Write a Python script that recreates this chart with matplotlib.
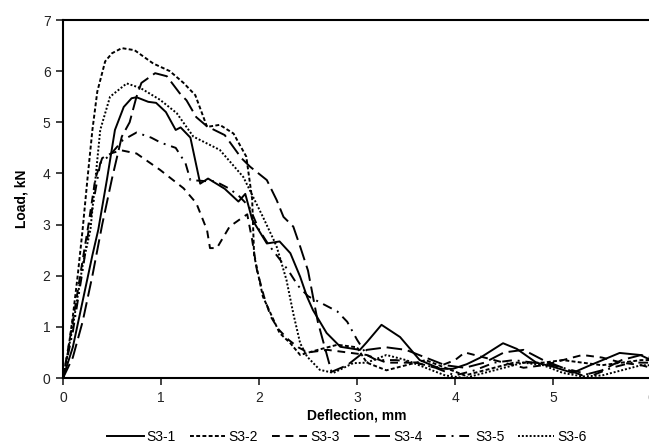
import matplotlib
matplotlib.use("Agg")
import matplotlib.pyplot as plt

plt.rcParams['font.family'] = ['Liberation Sans', 'DejaVu Sans']

# deflection (mm) / load (kN)
x1 = [0, 0.1, 0.2, 0.3, 0.36, 0.45, 0.53, 0.62, 0.7, 0.75, 0.87, 0.95, 1.05, 1.15, 1.2, 1.3, 1.4, 1.48,
      1.65, 1.79, 1.86, 1.93, 2.08, 2.21, 2.32, 2.42, 2.49, 2.55, 2.69, 2.83, 3.03, 3.1, 3.25, 3.44, 3.64,
      3.85, 3.98, 4.12, 4.26, 4.49, 4.63, 4.83, 5.0, 5.2, 5.38, 5.68, 5.89, 6.0]
y1 = [0, 0.6, 1.5, 2.4, 2.9, 3.9, 4.85, 5.3, 5.47, 5.49, 5.4, 5.38, 5.2, 4.85, 4.9, 4.7, 3.8, 3.9,
      3.7, 3.45, 3.6, 3.1, 2.63, 2.67, 2.44, 1.98, 1.59, 1.33, 0.88, 0.61, 0.55, 0.7, 1.04, 0.8, 0.35,
      0.18, 0.18, 0.27, 0.4, 0.68, 0.57, 0.3, 0.22, 0.1, 0.25, 0.49, 0.45, 0.35]

x2 = [0, 0.05, 0.1, 0.15, 0.2, 0.25, 0.3, 0.35, 0.43, 0.5, 0.6, 0.73, 0.92, 1.09, 1.23, 1.35, 1.47,
      1.6, 1.74, 1.87, 1.93, 1.95, 2.04, 2.15, 2.21, 2.32, 2.42, 2.6, 2.8, 3.0, 3.1, 3.3, 3.5, 3.7, 3.9,
      4.1, 4.3, 4.6, 4.9, 5.1, 5.3, 5.5, 5.7, 5.9, 6.0]
y2 = [0, 0.5, 1.2, 2.0, 2.9, 3.9, 4.85, 5.6, 6.19, 6.35, 6.45, 6.41, 6.15, 6.0, 5.77, 5.53, 4.91,
      4.95, 4.78, 4.33, 3.5, 2.4, 1.59, 1.13, 0.88, 0.68, 0.45, 0.55, 0.65, 0.6, 0.3, 0.15, 0.25, 0.35, 0.2,
      0.05, 0.15, 0.3, 0.3, 0.35, 0.3, 0.25, 0.3, 0.35, 0.35]

x3 = [0, 0.1, 0.2, 0.26, 0.33, 0.4, 0.5, 0.6, 0.75, 0.99, 1.23, 1.36, 1.47, 1.5, 1.57, 1.7, 1.84, 1.88,
      1.93, 1.98, 2.05, 2.12, 2.2, 2.3, 2.4, 2.5, 2.7, 2.9, 3.1, 3.3, 3.6, 3.8, 4.0, 4.1, 4.3, 4.5, 4.7,
      4.9, 5.1, 5.3, 5.5, 5.7, 5.9, 6.0]
y3 = [0, 1.1, 2.3, 3.0, 3.9, 4.3, 4.4, 4.45, 4.39, 4.07, 3.71, 3.42, 2.89, 2.54, 2.54, 2.96, 3.15, 3.2,
      2.7, 2.1, 1.6, 1.2, 0.95, 0.75, 0.6, 0.5, 0.55, 0.5, 0.45, 0.3, 0.3, 0.2, 0.35, 0.5, 0.4, 0.3, 0.2,
      0.25, 0.35, 0.45, 0.4, 0.3, 0.25, 0.2]

x4 = [0, 0.1, 0.2, 0.3, 0.4, 0.5, 0.6, 0.68, 0.75, 0.8, 0.94, 1.06, 1.19, 1.26, 1.36, 1.47, 1.65, 1.82,
      1.91, 2.08, 2.18, 2.25, 2.35, 2.42, 2.5, 2.6, 2.74, 2.9, 3.1, 3.3, 3.5, 3.7, 3.9, 4.1, 4.3, 4.5, 4.7,
      4.9, 5.1, 5.3, 5.5, 5.7, 5.9, 6.0]
y4 = [0, 0.4, 1.1, 2.0, 3.0, 3.9, 4.72, 5.0, 5.5, 5.77, 5.96, 5.9, 5.57, 5.43, 5.1, 4.92, 4.75, 4.3,
      4.13, 3.87, 3.48, 3.15, 2.96, 2.57, 2.1, 1.1, 0.12, 0.25, 0.55, 0.6, 0.55, 0.4, 0.25, 0.2, 0.3, 0.5, 0.55,
      0.35, 0.2, 0.05, 0.15, 0.35, 0.45, 0.4]

x5 = [0, 0.1, 0.2, 0.27, 0.38, 0.48, 0.61, 0.75, 0.9, 1.0, 1.15, 1.25, 1.3, 1.45, 1.55, 1.7, 1.8, 1.9,
      2.0, 2.1, 2.2, 2.3, 2.4, 2.5, 2.65, 2.8, 2.9, 3.0, 3.1, 3.2, 3.4, 3.6, 3.8, 4.0, 4.2, 4.4, 4.6, 4.8,
      5.0, 5.2, 5.4, 5.6, 5.8, 6.0]
y5 = [0, 0.9, 2.1, 3.0, 4.2, 4.36, 4.65, 4.8, 4.7, 4.6, 4.5, 4.2, 3.87, 3.85, 3.85, 3.7, 3.55, 3.35,
      2.9, 2.6, 2.35, 2.1, 1.8, 1.6, 1.45, 1.3, 1.1, 0.75, 0.45, 0.35, 0.35, 0.3, 0.2, 0.05, 0.15, 0.3, 0.35, 0.3,
      0.25, 0.15, 0.05, 0.2, 0.3, 0.3]

x6 = [0, 0.1, 0.2, 0.28, 0.38, 0.48, 0.65, 0.79, 0.99, 1.16, 1.33, 1.6, 1.84, 2.04, 2.15, 2.18, 2.28,
      2.35, 2.42, 2.49, 2.62, 2.76, 2.96, 3.1, 3.3, 3.5, 3.7, 3.9, 4.1, 4.3, 4.5, 4.7, 4.9, 5.1, 5.3, 5.5,
      5.7, 5.9, 6.0]
y6 = [0, 1.0, 2.2, 2.9, 4.85, 5.5, 5.76, 5.67, 5.44, 5.18, 4.72, 4.46, 3.93, 3.15, 2.7, 2.57, 1.92,
      1.26, 0.68, 0.42, 0.16, 0.1, 0.29, 0.3, 0.45, 0.35, 0.2, 0.05, 0.0, 0.1, 0.2, 0.3, 0.25, 0.1, 0.03, 0.05,
      0.15, 0.25, 0.25]

labels = ["S3-1", "S3-2", "S3-3", "S3-4", "S3-5", "S3-6"]
styles = ["-", (0, (2, 1.2)), (0, (4, 3)), (0, (8, 3)), (0, (5, 3, 1, 3)), (0, (1, 1))]

fig = plt.figure(figsize=(6.49, 4.45), dpi=100)
ax = fig.add_axes([63 / 649, 67 / 445, 588 / 649, 358 / 445])

series = [(x1, y1), (x2, y2), (x3, y3), (x4, y4), (x5, y5), (x6, y6)]
for (xs, ys), lab, ls in zip(series, labels, styles):
    ax.plot(xs, ys, color="black", lw=1.4, ls=ls, label=lab)

ax.set_xlim(0, 6)
ax.set_ylim(0, 7)
ax.set_xticks(range(0, 7))
ax.set_yticks(range(0, 8))
ax.spines["right"].set_visible(False)
for s in ["left", "bottom", "top"]:
    ax.spines[s].set_linewidth(1.5)
ax.tick_params(labelsize=10, width=1.2, length=5, direction="out", pad=4, colors="#222222")
ax.tick_params(axis="x", top=False)

ax.set_xlabel("Deflection, mm", fontsize=10, fontweight="bold", labelpad=3)
ax.set_ylabel("Load, kN", fontsize=10, fontweight="bold", labelpad=10)

ax.legend(loc="upper center", bbox_to_anchor=(0.483, -0.11), ncol=6, frameon=False,
          fontsize=10, handlelength=2.6, handletextpad=0.2, columnspacing=1.0)

fig.savefig("out.png", dpi=100)
